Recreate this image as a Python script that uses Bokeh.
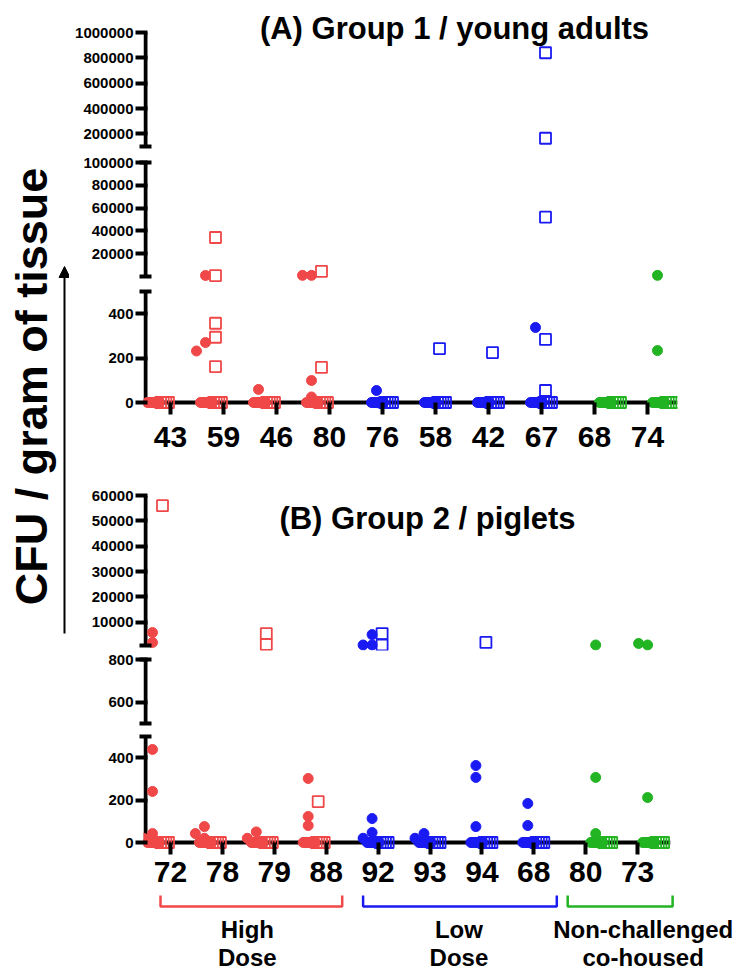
import numpy as np
from bokeh.plotting import figure
from bokeh.layouts import column, row
from bokeh.models import (Range1d, FixedTicker, BasicTickFormatter,
                          ColumnDataSource, Arrow, NormalHead)
from bokeh.core.properties import value
from bokeh.embed import file_html
from bokeh.resources import INLINE

FONT = "Liberation Sans"
COLORS = {"high": "#F04848", "low": "#1A1AF2", "non": "#22B422"}

# ---------------- data ----------------
# Panel A : Group 1 / young adults
a_labels = ["43", "59", "46", "80", "76", "58", "42", "67", "68", "74"]
a_groups = ["high", "high", "high", "high", "low", "low", "low", "low", "non", "non"]
a_circle_values = [[], [270, 232, 900], [59], [99, 25, 1000, 1000], [54], [], [], [338], [], [1000, 234]]
a_circle_zeros = [9, 9, 9, 9, 9, 9, 9, 9, 9, 9]
a_square_values = [[], [294, 357, 162, 800, 34200], [], [158, 4500], [], [243], [225],
                   [284, 54, 52000, 165000, 840000], [], []]
a_square_zeros = [4, 4, 4, 4, 4, 4, 4, 4, 4, 4]
a_ticks_top = [200000, 400000, 600000, 800000, 1000000]
a_ticks_mid = [20000, 40000, 60000, 80000, 100000]
a_ticks_low = [0, 200, 400]

# Panel B : Group 2 / piglets
b_labels = ["72", "78", "79", "88", "92", "93", "94", "68", "80", "73"]
b_groups = ["high", "high", "high", "high", "low", "low", "low", "low", "non", "non"]
b_circle_values = [[439, 241, 42, 20, 2000, 5900], [75, 42, 20], [50, 20], [302, 123, 80],
                   [113, 47, 20, 5100, 1000, 1000], [42, 20], [307, 363, 75], [184, 80],
                   [307, 42, 1000], [212, 1000, 1600]]
b_circle_zeros = [9, 9, 9, 9, 9, 9, 9, 9, 9, 9]
b_square_values = [[56000], [], [5500, 1200], [193], [5500, 1000], [], [2000], [], [], []]
b_square_zeros = [4, 4, 4, 4, 4, 4, 4, 4, 4, 4]
b_ticks_top = [10000, 20000, 30000, 40000, 50000, 60000]
b_ticks_mid = [600, 800]
b_ticks_low = [0, 200, 400]

group_names = ["high", "low", "non"]
group_text = [("High", "Dose"), ("Low", "Dose"), ("Non-challenged", "co-housed")]

# ---------------- layout constants (page pixels) ----------------
L_W = 69            # width of the y-label strip
FIG_W = 667         # width of every plot strip
FRAME_L = 143       # left edge of plot frames
AXIS_X = 145        # y-axis line position
PAGE_R = L_W + FIG_W
TOTAL_H = 970
GROUP_DX = {"high": -12.0, "low": 0.0, "non": 16.0}

PANEL_A = dict(labels=a_labels, groups=a_groups, cv=a_circle_values, cz=a_circle_zeros,
               sv=a_square_values, sz=a_square_zeros, tick0=170, step=53.0, right=677,
               title="(A) Group 1 / young adults", title_px=(454, 28),
               segs=[dict(vmin=100000, vmax=1000000, y_lo=146, y_hi=32, pad=0, pad_top=32,
                          fig=(0, 150), ticks=a_ticks_top, caps=(True, False)),
                     dict(vmin=0, vmax=100000, y_lo=276, y_hi=162, pad=6, pad_top=0,
                          fig=(150, 286), ticks=a_ticks_mid, caps=(True, True)),
                     dict(vmin=0, vmax=500, y_lo=402, y_hi=291, pad=12, pad_top=0,
                          fig=(286, 466), ticks=a_ticks_low, caps=(False, True), standoff=12)])
PANEL_B = dict(labels=b_labels, groups=b_groups, cv=b_circle_values, cz=b_circle_zeros,
               sv=b_square_values, sz=b_square_zeros, tick0=170, step=51.9, right=670,
               title="(B) Group 2 / piglets", title_px=(427, 518),
               segs=[dict(vmin=800, vmax=60000, y_lo=645, y_hi=495, pad=5, pad_top=0,
                          fig=(466, 652), ticks=b_ticks_top, caps=(True, False)),
                     dict(vmin=500, vmax=800, y_lo=723, y_hi=659, pad=0, pad_top=0,
                          fig=(652, 729), ticks=b_ticks_mid, caps=(True, True)),
                     dict(vmin=0, vmax=500, y_lo=842, y_hi=736, pad=12, pad_top=0,
                          fig=(729, 894), ticks=b_ticks_low, caps=(False, True), standoff=7)])


def build_panel(P):
    segs = P["segs"]
    step = P["step"]
    t0 = P["tick0"]

    def xpx(px):
        return 1 + (px - t0) / step

    xr = Range1d(xpx(FRAME_L), xpx(P["right"]))
    ax = xpx(AXIS_X)
    nseg = len(segs)
    ppu = [(s["y_lo"] - s["y_hi"]) / (s["vmax"] - s["vmin"]) for s in segs]

    def seg_of(v):
        for k in range(nseg - 1, -1, -1):
            if v <= segs[k]["vmax"]:
                return k
        return 0

    def page_y(k, v):
        return segs[k]["y_lo"] - (v - segs[k]["vmin"]) * ppu[k]

    pts = [dict(cx=[], cy=[], cc=[], sx=[], sy=[], sc=[]) for _ in segs]
    kb = nseg - 1
    for i in range(len(P["labels"])):
        g = P["groups"][i]
        col = COLORS[g]
        c0 = GROUP_DX[g]
        pos = i + 1
        for dx in np.linspace(-11, 1, P["cz"][i]):
            pts[kb]["cx"].append(pos + (c0 + dx) / step)
            pts[kb]["cy"].append(0)
            pts[kb]["cc"].append(col)
        for dx in np.linspace(2, 10, P["sz"][i]):
            pts[kb]["sx"].append(pos + (c0 + dx) / step)
            pts[kb]["sy"].append(0)
            pts[kb]["sc"].append(col)
        placed = []
        for vals, base, order, key in ((P["cv"][i], -6.0, (0, -1, 1, -2, 2, -3, 3), "c"),
                                       (P["sv"][i], 4.0, (0, 1, -1, 2, -2, 3, -3), "s")):
            for v in vals:
                k = seg_of(v)
                y = page_y(k, v)
                dx = base
                for m in order:
                    dx = base + 9.0 * m
                    if all((dx - a) ** 2 + (y - b) ** 2 >= 81 for a, b in placed):
                        break
                placed.append((dx, y))
                pts[k][key + "x"].append(pos + (c0 + dx) / step)
                pts[k][key + "y"].append(v)
                pts[k][key + "c"].append(col)

    figs = []
    for k, s in enumerate(segs):
        f0, f1 = s["fig"]
        yr = Range1d(s["vmin"] - s["pad"] / ppu[k], s["vmax"] + s["pad_top"] / ppu[k])
        has_x = "standoff" in s
        p = figure(width=FIG_W, height=f1 - f0, x_range=xr, y_range=yr,
                   output_backend="svg", toolbar_location=None,
                   x_axis_location="below" if has_x else None, y_axis_location="left",
                   min_border_left=FRAME_L - L_W, min_border_right=PAGE_R - P["right"],
                   min_border_top=(s["y_hi"] - s["pad_top"]) - f0,
                   min_border_bottom=f1 - (s["y_lo"] + s["pad"]))
        p.frame_align = False
        p.outline_line_color = None
        p.grid.visible = False
        p.background_fill_color = "white"
        p.border_fill_color = "white"

        caps = []
        if s["caps"][0]:
            caps.append(s["vmin"])
        if s["caps"][1]:
            caps.append(s["vmax"])
        ya = p.yaxis[0]
        ya.ticker = FixedTicker(ticks=s["ticks"], minor_ticks=caps)
        ya.formatter = BasicTickFormatter(use_scientific=False)
        ya.axis_line_color = None
        ya.major_tick_out = 8
        ya.major_tick_in = 4
        ya.major_tick_line_width = 4
        ya.major_tick_line_color = "black"
        ya.minor_tick_out = 4
        ya.minor_tick_in = 8
        ya.minor_tick_line_width = 4
        ya.minor_tick_line_color = "black"
        ya.major_label_standoff = 2
        ya.major_label_text_font = FONT
        ya.major_label_text_font_size = "15px"
        ya.major_label_text_font_style = "bold"
        ya.major_label_text_color = "black"

        # the y-axis line of this segment (ends exactly at the break)
        p.segment(x0=[ax], y0=[s["vmin"]], x1=[ax], y1=[s["vmax"]], line_color="black",
                  line_width=4, line_cap="butt")

        if has_x:
            # x-axis line along zero
            p.segment(x0=[xr.start], y0=[0], x1=[xr.end], y1=[0], line_color="black",
                      line_width=4, line_cap="butt")
            xa = p.xaxis[0]
            xa.ticker = FixedTicker(ticks=list(range(1, len(P["labels"]) + 1)))
            xa.major_label_overrides = {i + 1: lab for i, lab in enumerate(P["labels"])}
            xa.axis_line_color = None
            xa.major_tick_in = 12
            xa.major_tick_out = 0
            xa.major_tick_line_width = 4
            xa.major_tick_line_color = "black"
            xa.minor_tick_line_color = None
            xa.major_label_standoff = s["standoff"]
            xa.major_label_text_font = FONT
            xa.major_label_text_font_size = "30px"
            xa.major_label_text_font_style = "bold"
            xa.major_label_text_color = "black"

        d = pts[k]
        if d["cx"]:
            p.scatter(x="x", y="y", color="c", marker="circle", size=10,
                      source=ColumnDataSource(dict(x=d["cx"], y=d["cy"], c=d["cc"])))
        if d["sx"]:
            p.scatter(x="x", y="y", line_color="c", fill_color=None, marker="square", size=11,
                      line_width=1.8,
                      source=ColumnDataSource(dict(x=d["sx"], y=d["sy"], c=d["sc"])))

        if k == 0:
            tx, ty = P["title_px"]
            p.text(x=[xpx(tx)], y=[s["vmin"] + (s["y_lo"] - ty) / ppu[k]], text=[P["title"]],
                   text_font=value(FONT), text_font_size="31px", text_font_style="bold",
                   text_align="center", text_baseline="middle", text_color="black")
        figs.append(p)
    return figs


figs_a = build_panel(PANEL_A)
figs_b = build_panel(PANEL_B)

# ---------------- group brackets ----------------
BR_TOP = PANEL_B["segs"][-1]["fig"][1]
step_b = PANEL_B["step"]


def xb(px):
    return 1 + (px - PANEL_B["tick0"]) / step_b


BRACKET_PAD = {"high": (-10, 16), "low": (-15, 23), "non": (-18, 35)}
LABEL_SHIFT = {"high": -4, "low": -1, "non": 23}
br = figure(width=FIG_W, height=TOTAL_H - BR_TOP, x_range=Range1d(xb(FRAME_L), xb(PAGE_R)),
            y_range=Range1d(TOTAL_H, BR_TOP), output_backend="svg", toolbar_location=None,
            x_axis_location=None, y_axis_location=None, min_border_left=FRAME_L - L_W,
            min_border_right=0, min_border_top=0, min_border_bottom=0)
br.frame_align = False
br.outline_line_color = None
br.grid.visible = False
for gname, (t1, t2) in zip(group_names, group_text):
    idx = [i + 1 for i, g in enumerate(b_groups) if g == gname]
    pl, pr = BRACKET_PAD[gname]
    x0 = idx[0] + pl / step_b
    x1 = idx[-1] + pr / step_b
    br.line(x=[x0, x0, x1, x1], y=[895, 906, 906, 895], line_color=COLORS[gname], line_width=2.5)
    xc = (x0 + x1) / 2 + LABEL_SHIFT[gname] / step_b
    br.text(x=[xc, xc], y=[929, 957], text=[t1, t2], text_align="center",
            text_baseline="middle", text_font=value(FONT), text_font_size="24px",
            text_font_style="bold", text_color="black")

# ---------------- shared y label ----------------
L = figure(width=L_W, height=TOTAL_H, x_range=Range1d(0, L_W), y_range=Range1d(TOTAL_H, 0),
           output_backend="svg", toolbar_location=None, x_axis_location=None,
           y_axis_location=None, min_border=0)
L.frame_align = False
L.outline_line_color = None
L.grid.visible = False
L.text(x=[31], y=[386], text=["CFU / gram of tissue"], angle=np.pi / 2, text_align="center",
       text_baseline="middle", text_font=value(FONT), text_font_size="45px",
       text_font_style="bold", text_color="black")
L.add_layout(Arrow(end=NormalHead(size=11, fill_color="black", line_color="black"),
                   x_start=64, y_start=633, x_end=64, y_end=266, line_width=2,
                   line_color="black"))

layout = row(L, column(*figs_a, *figs_b, br))
open("out.html", "w").write(file_html(layout, INLINE))
